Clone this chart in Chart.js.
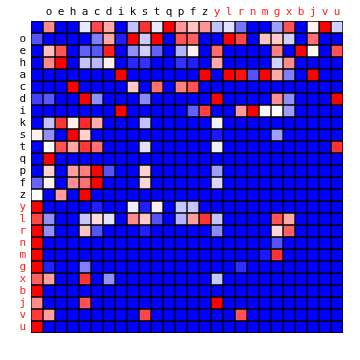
<!DOCTYPE html>
<html>
<head>
<meta charset="utf-8">
<script src="https://cdn.jsdelivr.net/npm/chart.js@4"></script>
<style>
  html, body { margin: 0; padding: 0; background: #fff; }
</style>
</head>
<body>
<canvas id="chart" width="360" height="360"></canvas>
<script>
// first row / column of the matrix has no label
const names = ['', 'o', 'e', 'h', 'a', 'c', 'd', 'i', 'k', 's', 't', 'q', 'p', 'f', 'z',
    'y', 'l', 'r', 'n', 'm', 'g', 'x', 'b', 'j', 'v', 'u'];
const redNames = ['y', 'l', 'r', 'n', 'm', 'g', 'x', 'b', 'j', 'v', 'u'];

// 0 = blue, 0.5 = white, 1 = red
const matrix = [
    [0, .73, 0, 0, .455, .86, .67, 0, .38, .9, .455, 1, .7, .62, .71, .38, .44, .23, 0, 0, .31, .84, 0, .53, 1, .41],
    [.16, 0, 0, 0, 0, .25, .67, .06, 1, .4, 1, 0, .84, .81, 0, 0, 1, .86, 0, .62, .6, .41, 0, .78, 0, 0],
    [0, .63, .84, 0, .19, .17, .94, 0, .28, .41, .19, 0, .35, .53, 0, .79, 0, 0, 0, 0, .75, 0, 1, .51, 0, .84],
    [0, .73, 1, 0, .38, .36, .53, 0, .08, .1, 0, 0, .1, .06, 0, .67, 0, 0, 0, 0, .41, .73, 0, 0, 0, 0],
    [0, 0, 0, 0, 0, 0, 0, 1, 0, 0, 0, 0, 0, 0, 1, 0, 1, .97, .16, 1, .67, .25, 0, 1, 0, 0],
    [0, 0, 0, 1, 0, 0, 0, 0, .61, 0, .78, 0, .75, .84, 0, 0, 0, 0, 0, 0, 0, 0, 0, 0, 0, 0],
    [.125, .17, 0, 0, 1, .28, 0, 0, 0, .27, 0, 0, 0, 0, 0, 1, 0, 0, 0, 0, .72, .28, 0, 0, 0, 1],
    [0, 0, 0, 0, 0, 0, 0, 1, 0, 0, 0, 0, 0, .19, .875, 0, 0, .7, 1, .51, .5, .31, 0, 0, 0, 0],
    [0, .38, .9, .53, .92, .66, 0, 0, 0, .38, 0, 0, 0, 0, 0, .47, 0, 0, 0, 0, 0, 0, 0, 0, 0, 0],
    [.53, .28, 0, 1, .59, 0, 0, 0, 0, 0, 0, 0, 0, 0, 0, .05, 0, 0, 0, 0, .31, 0, 0, 0, 0, 0],
    [0, .51, .84, .67, .89, .78, 0, 0, 0, .44, 0, 0, 0, 0, 0, .47, 0, 0, 0, 0, 0, 0, 0, 0, 0, .9],
    [0, 1, 0, 0, 0, 0, 0, 0, 0, 0, 0, 0, 0, 0, 0, 0, 0, 0, 0, 0, 0, 0, 0, 0, 0, 0],
    [0, .59, 0, .69, .75, 1, .16, 0, 0, .59, 0, 0, 0, 0, 0, .31, 0, 0, 0, 0, 0, 0, 0, 0, 0, 0],
    [.2, .53, 0, .72, .78, 1, 0, 0, 0, .58, 0, 0, 0, 0, 0, .42, 0, 0, 0, 0, 0, 0, 0, 0, 0, 0],
    [.5, 0, .69, 0, 1, 0, 0, 0, 0, 0, 0, 0, 0, 0, 0, 0, 0, 0, 0, 0, 0, 0, 0, 0, 0, 0],
    [1, 0, 0, 0, 0, .06, 0, 0, .47, .06, .53, 0, .39, .39, 0, 0, 0, 0, 0, 0, 0, 0, 0, 0, 0, 0],
    [.86, .28, 0, 0, .39, .57, .44, 0, .73, .61, .16, 0, .35, .69, .9, .38, 0, 0, 0, 0, .84, .67, 0, 0, 0, 0],
    [1, .28, 0, 0, .62, .16, 0, 0, 0, .06, 0, 0, 0, 0, 0, .27, 0, 0, 0, 0, .58, .81, 0, 0, 0, 0],
    [1, 0, 0, 0, 0, 0, 0, 0, 0, 0, 0, 0, 0, 0, 0, 0, 0, 0, 0, 0, .16, 0, 0, 0, 0, 0],
    [1, 0, 0, 0, 0, 0, 0, 0, 0, 0, 0, 0, 0, 0, 0, 0, 0, 0, 0, .05, .9, 0, 0, 0, 0, 0],
    [1, .06, 0, 0, .25, 0, 0, 0, 0, 0, 0, 0, 0, 0, 0, 0, 0, .09, 0, 0, 0, 0, 0, 0, 0, 0],
    [.81, .69, 0, 0, .9, 0, .28, 0, 0, 0, 0, 0, 0, 0, 0, .39, 0, 0, 0, 0, 0, 0, 0, 0, 0, 0],
    [1, 0, 0, 0, 0, 0, 0, 0, 0, 0, 0, 0, 0, 0, 0, 0, 0, 0, 0, 0, 0, 0, 0, 0, 0, 0],
    [.73, 0, 0, 0, .84, 0, 0, 0, 0, 0, 0, 0, 0, 0, 0, 1, 0, 0, 0, 0, 0, 0, 0, 0, 0, 0],
    [.89, .69, 0, 0, 0, 0, 0, 0, 0, .86, 0, 0, 0, 0, 0, 0, 0, .84, 0, 0, 0, 0, 0, 0, 0, 0],
    [1, 0, 0, 0, 0, 0, 0, 0, 0, 0, 0, 0, 0, 0, 0, 0, 0, 0, 0, 0, 0, 0, 0, 0, 0, 0]
];

function cellColor(v) {
    if (v < 0.5) {
        const c = Math.round(510 * v);
        return `rgb(${c},${c},255)`;
    }
    const c = Math.round(510 * (1 - v));
    return `rgb(255,${c},${c})`;
}

function labelColor(ctx) {
    return redNames.includes(names[ctx.index]) ? '#ff2020' : '#000';
}

// one stacked dataset per column, every cell one unit wide
const datasets = names.map((col, j) => ({
    label: col,
    data: names.map(() => 1),
    backgroundColor: matrix.map(row => cellColor(row[j])),
    borderColor: '#000',
    borderWidth: 1,
    borderSkipped: false,
    barPercentage: 1,
    categoryPercentage: 1
}));

const tickFont = { family: 'DejaVu Sans Mono', size: 11 };

new Chart(document.getElementById('chart').getContext('2d'), {
    type: 'bar',
    data: { labels: names, datasets: datasets },
    options: {
        indexAxis: 'y',
        responsive: false,
        animation: false,
        devicePixelRatio: 1,
        layout: { padding: { top: 0, right: 17, bottom: 27, left: 0 } },
        plugins: { legend: { display: false }, tooltip: { enabled: false } },
        scales: {
            x: { stacked: true, min: 0, max: names.length, display: false },
            y: {
                stacked: true,
                grid: { display: false, drawTicks: false },
                border: { display: false },
                ticks: { font: tickFont, color: labelColor, padding: 5, autoSkip: false },
                afterFit: s => { s.width = 31; }
            },
            top: {
                type: 'category',
                position: 'top',
                labels: names,
                offset: true,
                grid: { display: false, drawTicks: false },
                border: { display: false },
                ticks: { font: tickFont, color: labelColor, padding: 2, maxRotation: 0, autoSkip: false },
                afterFit: s => { s.height = 21; }
            }
        }
    }
});
</script>
</body>
</html>
